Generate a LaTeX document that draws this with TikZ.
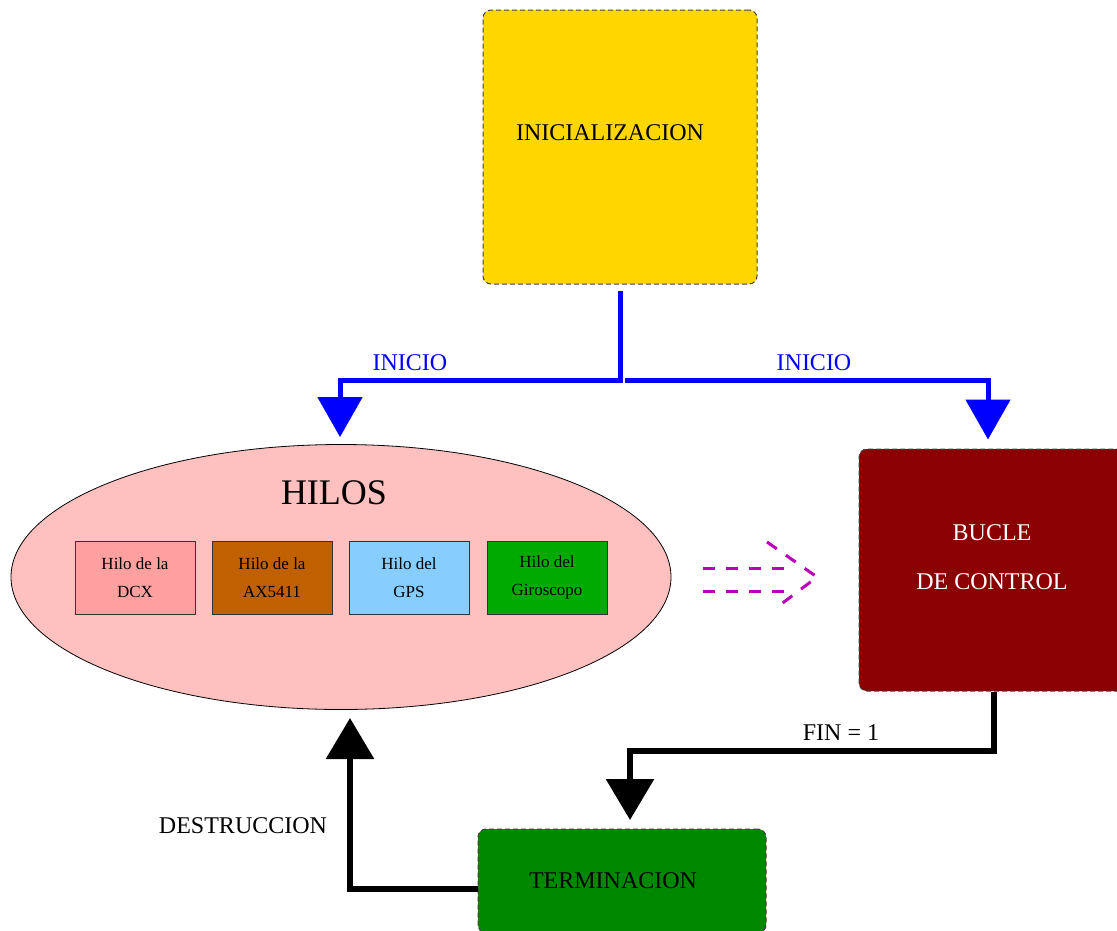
\documentclass[tikz,border=0pt]{standalone}
\usepackage{fontspec}
\setmainfont{Liberation Serif}
\usetikzlibrary{arrows.meta}
\usetikzlibrary{shapes.geometric}
\definecolor{inityellow}{HTML}{FFD700}
\definecolor{hilospink}{HTML}{FFC0C0}
\definecolor{dcxpink}{HTML}{FFA0A0}
\definecolor{axbrown}{HTML}{C06000}
\definecolor{gpsblue}{HTML}{87CEFF}
\definecolor{girogreen}{HTML}{00AA00}
\definecolor{buclered}{HTML}{8B0000}
\definecolor{termgreen}{HTML}{008800}
\definecolor{impmagenta}{HTML}{BB00BB}
\tikzstyle{stage}=[draw=black!75, line width=1pt, dash pattern=on 5pt off 3pt, rounded corners=8pt, inner sep=0]
\tikzstyle{thread}=[draw=black!80, line width=0.8pt, minimum width=120pt, minimum height=73pt, inner sep=0, align=center,
                    font=\fontsize{17}{28}\selectfont]
\tikzstyle{startflow}=[draw=blue, line width=5pt, -{Triangle[length=40pt, width=44pt]}]
\tikzstyle{endflow}=[draw=black, line width=6pt, -{Triangle[length=41pt, width=47pt]}]

\begin{document}
\begin{tikzpicture}[x=1pt, y=-1pt, every node/.style={font=\fontsize{24}{49}\selectfont}]
        \useasboundingbox (0,0) rectangle (1117,930);
        % stages
        \node[stage, fill=inityellow, minimum width=274pt, minimum height=274pt] (init) at (620,147) {};
        \node (initlabel) at (610,133) {INICIALIZACION};
        \node[stage, fill=buclered, minimum width=270pt, minimum height=242pt] (bucle) at (994,570) {};
        \node[text=white, align=center] (buclelabel) at (992,557) {BUCLE\\DE CONTROL};
        \node[stage, fill=termgreen, minimum width=288pt, minimum height=104pt] (term) at (622,881) {};
        \node (termlabel) at (613,881) {TERMINACION};
        % threads
        \node[ellipse, draw, line width=0.8pt, fill=hilospink, minimum width=660pt, minimum height=265pt, inner sep=0] (hilos) at (341,577) {};
        \node[font=\fontsize{36}{36}\selectfont] (hiloslabel) at (334,493) {HILOS};
        \node[thread, fill=dcxpink] (dcx) at (135,577.5) {Hilo de la\\DCX};
        \node[thread, fill=axbrown] (ax) at (272,577.5) {Hilo de la\\AX5411};
        \node[thread, fill=gpsblue] (gps) at (409,577.5) {Hilo del\\GPS};
        \node[thread, fill=girogreen] (giro) at (547,577.5) {Hilo del\\Giroscopo};
        % start
        \coordinate (split) at (620,380);
        \draw[startflow] ([yshift=-6pt]init.south) -- (split) -| ([xshift=-1pt, yshift=7pt]hilos.north);
        \draw[startflow] ([xshift=5pt]split) -| ([xshift=-6pt, yshift=9pt]bucle.north);
        \node[text=blue] (inicioa) at (410,363) {INICIO};
        \node[text=blue] (iniciob) at (814,363) {INICIO};
        % threads feed the control loop
        \begin{scope}[draw=impmagenta, line width=3pt, dash pattern=on 12pt off 11pt]
            \draw (703,568) -- (790,568);
            \draw (703,591) -- (790,591);
            \draw (767,542) -- (817,577) -- (780,605);
        \end{scope}
        % end
        \coordinate (finbend) at (630,751);
        \coordinate (finend) at (630,820);
        \draw[endflow] (bucle.south) |- (finbend) -- (finend);
        \node (finlabel) at (841,733) {FIN = 1};
        \coordinate (hilosend) at (350,718);
        \draw[endflow] ([yshift=-8pt]term.west) -| (hilosend);
        \node (destlabel) at (243,826) {DESTRUCCION};
    \end{tikzpicture}
\end{document}
